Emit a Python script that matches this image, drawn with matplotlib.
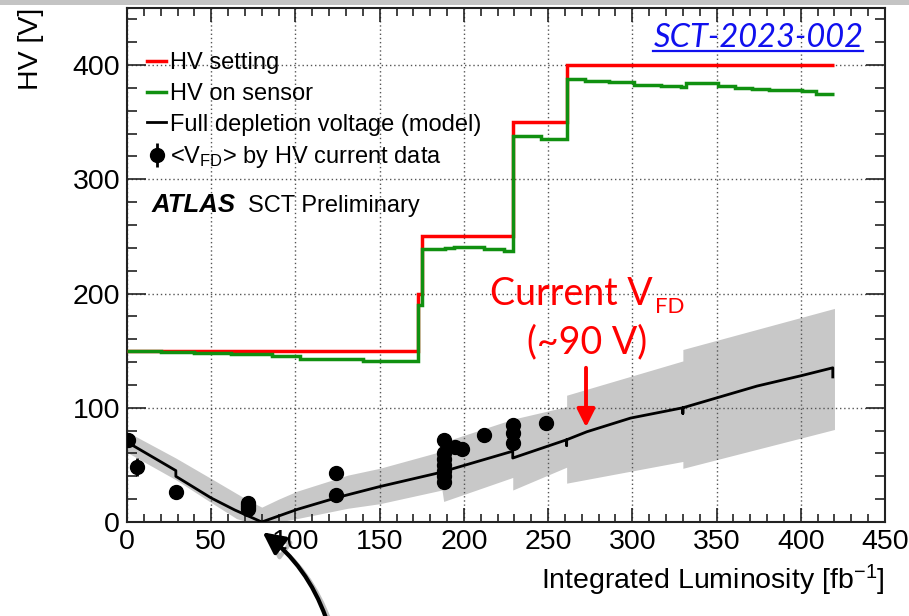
import matplotlib
matplotlib.use('Agg')
import matplotlib.pyplot as plt
import matplotlib.patheffects as pe
from matplotlib.lines import Line2D
from matplotlib.patches import Rectangle
from matplotlib.ticker import MultipleLocator

plt.rcParams['font.family'] = 'Liberation Sans'
plt.rcParams['mathtext.fontset'] = 'custom'
plt.rcParams['mathtext.rm'] = 'Liberation Sans'
plt.rcParams['mathtext.it'] = 'Liberation Sans:italic'

# HV setting (step histogram)
hv_set_edges = [0, 173, 175, 229, 261, 420]
hv_set_vals = [150, 200, 250, 350, 400]

# HV on sensor
hv_sensor_edges = [0, 20, 40, 62, 86, 103, 140, 173, 175, 189, 194, 212, 224, 229,
                   246, 261, 272, 286, 301, 317, 329, 332, 351, 361, 371, 381, 401, 409, 420]
hv_sensor_vals = [150, 149, 148, 147, 145, 143, 141, 190, 239, 240, 241, 239, 237,
                  338, 335, 388, 386, 385, 383, 382, 381, 384, 382, 380, 379, 378, 377, 375]

# full depletion voltage model
model_x = [0, 29, 29, 50, 64, 80, 101, 125, 150, 185, 229, 229, 261, 261, 261,
           273, 299, 330, 330, 330, 374, 400, 419, 419]
model_y = [70, 45, 40, 21, 10.5, 0, 11, 21.5, 31, 43, 62, 56, 72, 67, 72,
           79, 91, 100, 95, 100, 119, 128, 135, 127]

# model uncertainty band
band_x = [0, 29, 50, 65, 72, 80, 90, 101, 131, 150, 187, 188, 229, 229, 261, 261, 330, 330, 420]
band_lo = [61, 37, 17, 3, 0, 0, 0, 3, 12, 16, 28, 18, 39, 28, 48, 34, 53, 47, 81]
band_hi = [79, 56, 38, 25, 19, 13, 20, 27, 41, 47, 62, 70, 90, 90, 101, 111, 141, 151, 187]

# <V_FD> from HV current data
vfd_x = [0.5, 6, 29, 72, 72, 72, 72, 124, 124, 188, 188, 188, 188, 188, 188, 188,
         195, 199, 212, 229, 229, 229, 249]
vfd_y = [72, 48, 26, 17, 15, 13, 11, 43, 24, 72, 60, 55, 50, 45, 40, 35,
         66, 64, 76, 85, 78, 69, 87]
vfd_err = [4, 8, 3, 3, 3, 3, 3, 3, 3, 3, 3, 3, 3, 3, 3, 3, 3, 3, 3, 3, 3, 3, 3]

fig = plt.figure(figsize=(9.09, 6.16), dpi=100)
ax = fig.add_axes([127 / 909, 94 / 616, 758 / 909, 514 / 616])

ax.fill_between(band_x, band_lo, band_hi, color='#c8c8c8', lw=0, zorder=1)
ax.plot(model_x, model_y, color='black', lw=2, zorder=3)
ax.stairs(hv_set_vals, hv_set_edges, baseline=None, color='#ff0000', lw=2.5, zorder=4)
ax.stairs(hv_sensor_vals, hv_sensor_edges, baseline=None, color='#109010', lw=2.5, zorder=5)
eb = ax.errorbar(vfd_x, vfd_y, yerr=vfd_err, fmt='o', color='black', ms=10,
                 elinewidth=2, capsize=0, zorder=6)

ax.set_xlim(0, 450)
ax.set_ylim(0, 450)
ax.xaxis.set_major_locator(MultipleLocator(50))
ax.xaxis.set_minor_locator(MultipleLocator(10))
ax.yaxis.set_major_locator(MultipleLocator(100))
ax.yaxis.set_minor_locator(MultipleLocator(20))
ax.tick_params(which='both', direction='in', top=True, right=True, width=1.2,
               labelsize=20.5, colors='#222222', labelcolor='black')
ax.xaxis.set_tick_params(which='major', length=10, pad=5)
ax.xaxis.set_tick_params(which='minor', length=5.5)
ax.yaxis.set_tick_params(which='major', length=14, pad=5)
ax.yaxis.set_tick_params(which='minor', length=7)
for s in ax.spines.values():
    s.set_linewidth(1.5)
    s.set_color('#222222')
ax.grid(True, which='major', ls=(0, (1, 2)), color='#555555', lw=1)

ax.set_xlabel(r'Integrated Luminosity [fb$^{-1}$]', fontsize=20.5, loc='right', labelpad=6)
ax.set_ylabel('HV [V]', fontsize=20.5, loc='top')
ax.yaxis.set_label_coords(-0.11, 1.0)

handles = [Line2D([], [], color='#ff0000', lw=2.5),
           Line2D([], [], color='#109010', lw=2.5),
           Line2D([], [], color='black', lw=2),
           eb]
labels = ['HV setting', 'HV on sensor', 'Full depletion voltage (model)',
          r'<V$_{\rm FD}$> by HV current data']
ax.legend(handles, labels, loc='upper left', bbox_to_anchor=(0.027, 0.914),
          frameon=False, fontsize=17, handlelength=0.8, handletextpad=0.15,
          labelspacing=0.37, borderpad=0, borderaxespad=0)

ax.text(0.033, 0.603, 'ATLAS', transform=ax.transAxes, fontsize=18.5,
        fontweight='bold', fontstyle='italic', va='baseline')
ax.text(0.1596, 0.603, 'SCT Preliminary', transform=ax.transAxes, fontsize=17,
        va='baseline')

# red annotation
cur = ax.text(215.5, 190, 'Current V', color='#ff0000', fontsize=27, family='Lato',
              va='baseline', ha='left')
ax.annotate('FD', xy=(1.0, 0.0), xycoords=cur, xytext=(2, -1), textcoords='offset points',
            color='#ff0000', fontsize=16, family='Lato', va='baseline', ha='left')
ax.text(273, 148, '(~90 V)', color='#ff0000', fontsize=27, family='Lato',
        va='baseline', ha='center')
ax.annotate('', xy=(272.5, 83), xytext=(272.5, 135),
            arrowprops=dict(arrowstyle='-|>,head_length=0.54,head_width=0.27',
                            color='#ff0000', lw=2.8, mutation_scale=20,
                            shrinkA=0, shrinkB=0))

# reference tag
tag = ax.text(312.5, 416, 'SCT-2023-002', color='#1010ee', fontsize=23.5, family='Lato',
              fontstyle='italic', va='baseline', ha='left')

# black curved arrow pointing at the minimum
ax.annotate('', xy=(80.5, -9), xycoords='data', xytext=(326, -2), textcoords='figure pixels',
            annotation_clip=False,
            arrowprops=dict(arrowstyle='-|>,head_length=0.5,head_width=0.25',
                            color='black', lw=3, mutation_scale=26,
                            connectionstyle='arc3,rad=0.15', shrinkA=0, shrinkB=0,
                            path_effects=[pe.SimpleLineShadow(offset=(3, -3), alpha=0.25),
                                          pe.Normal()]))

# light gray strip at the top of the screenshot
fig.add_artist(Rectangle((0, 1 - 5 / 616), 1, 5 / 616, transform=fig.transFigure,
                         color='#c4c4c4', lw=0))

fig.canvas.draw()
bb = tag.get_window_extent()
fig.add_artist(Line2D([bb.x0, bb.x1], [bb.y0 + 2, bb.y0 + 2], transform=None,
                      color='#1010ee', lw=1.6))

fig.savefig('out.png', dpi=100)
